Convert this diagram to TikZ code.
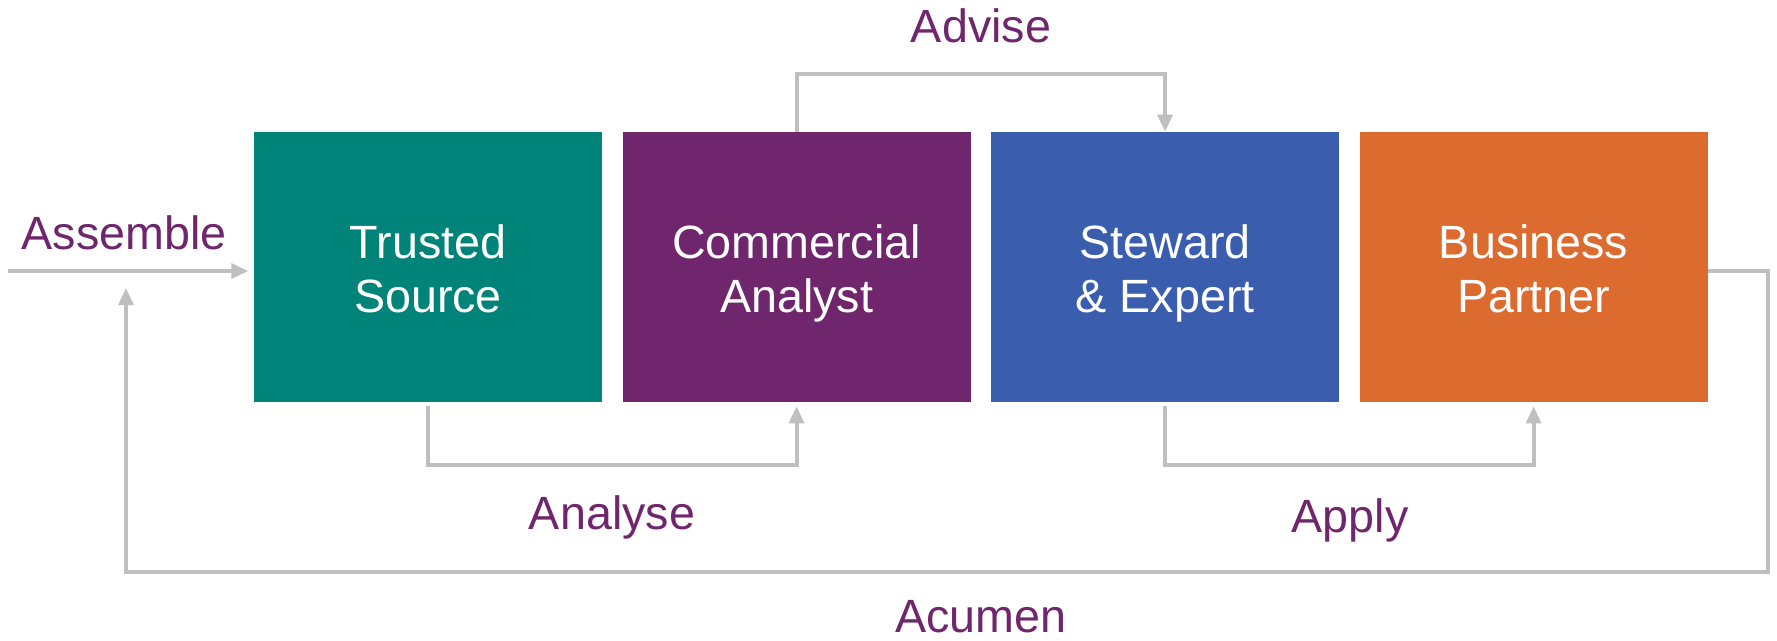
\documentclass[tikz,border=0pt]{standalone}
\usepackage{fontspec}
\setmainfont{Liberation Sans}
\usepackage{tikz}
\usetikzlibrary{positioning,arrows.meta}
\definecolor{trustedteal}{RGB}{0,132,121}
\definecolor{analystpurple}{RGB}{112,38,108}
\definecolor{stewardblue}{RGB}{58,93,174}
\definecolor{partnerorange}{RGB}{220,107,48}
\definecolor{flowgray}{RGB}{191,191,191}

\begin{document}
\begin{tikzpicture}[x=0.75pt,y=-0.75pt,
    stage/.style={minimum width=261pt, minimum height=202.5pt, inner sep=0pt,
      text height=67.5pt, text depth=0pt, text=white, align=center,
      font=\fontsize{35}{40.5}\selectfont},
    flow/.style={draw=flowgray, line width=3pt,
      -{Triangle[length=12.75pt,width=11pt]}},
    verb/.style={text=analystpurple, anchor=base, font=\fontsize{35}{44}\selectfont}]
    \useasboundingbox (0,0) rectangle (1777,640);

    % Draw the four stages
    \node[stage, fill=trustedteal] (trusted) at (428,267) {Trusted\\Source};
    \node[stage, fill=analystpurple, right=15pt of trusted] (analyst) {Commercial\\Analyst};
    \node[stage, fill=stewardblue, right=15pt of analyst] (steward) {Steward\\\& Expert};
    \node[stage, fill=partnerorange, right=15pt of steward] (partner) {Business\\Partner};

    % Draw the connectors between the stages
    \coordinate (assemblestart) at (8,271);
    \draw[flow, shorten >=4pt] (assemblestart) -- (trusted.west |- assemblestart);
    \draw[flow] (analyst.north) -- ++(0,-58) -| (steward.north);
    \draw[flow, shorten <=3pt, shorten >=3pt] (trusted.south) -- ++(0,63) -| (analyst.south);
    \draw[flow, shorten <=3pt, shorten >=3pt] (steward.south) -- ++(0,63) -| (partner.south);

    % Draw the feedback loop back to the start
    \coordinate (acumenstart) at ([yshift=-3pt]partner.east);
    \coordinate (acumencorner) at (1768,572);
    \coordinate (acumenend) at (126,288);
    \draw[flow] (acumenstart) -| (acumencorner) -| (acumenend);

    % Label the connectors
    \node[verb] (assemble) at (124,249) {Assemble};
    \node[verb] (advise) at (981,42) {Advise};
    \node[verb] (analyse) at (612,529) {Analyse};
    \node[verb] (apply) at (1350,532) {Apply};
    \node[verb] (acumen) at (981,632) {Acumen};
\end{tikzpicture}
\end{document}
